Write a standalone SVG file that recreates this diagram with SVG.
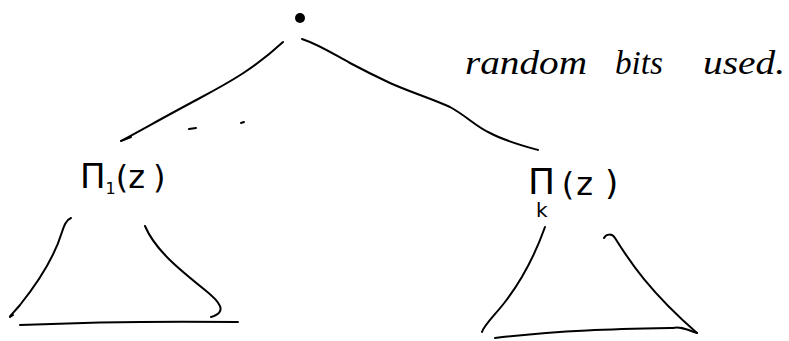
<svg xmlns="http://www.w3.org/2000/svg" width="789" height="341" viewBox="0 0 789 341">
<style>
.ink{fill:none;stroke:#000;stroke-width:2;stroke-linecap:round;stroke-linejoin:round}
.hand{font-family:"Liberation Serif",serif;font-style:italic;fill:#000}
.lbl{font-family:"DejaVu Sans",sans-serif;fill:#000}
</style>
<rect width="789" height="341" fill="#fff"/>
<g id="root">
<circle cx="300" cy="18" r="5" fill="#000"/>
</g>
<g id="note">
<text class="hand" x="465" y="74" font-size="34" textLength="122" lengthAdjust="spacingAndGlyphs">random</text>
<text class="hand" x="615" y="74" font-size="34" textLength="48" lengthAdjust="spacingAndGlyphs">bits</text>
<text class="hand" x="703" y="74" font-size="34" textLength="82" lengthAdjust="spacingAndGlyphs">used.</text>
</g>
<g id="connectors">
<path class="ink" d="M283,42 C255,68 230,82 200,98 C170,114 145,128 121,141 L131,137"/>
<path class="ink" d="M302,39 C320,45 335,55 350,63 C365,71 375,76 390,83 C410,92 430,98 450,107 C468,117 475,126 490,133 C505,141 520,145 538,150"/>
<path class="ink" d="M189,129 L196,128"/>
<path class="ink" d="M241,123 L244,122"/>
</g>
<g id="pi1">
<text class="lbl" x="80" y="188" font-size="34">Π<tspan font-size="16" dy="6">1</tspan><tspan font-size="32" dy="-6">(z</tspan><tspan font-size="32" dx="8">)</tspan></text>
<path class="ink" d="M71,218 C66,220 64,226 62,232 C55,255 40,280 20,305 C14,312 9,317 10,317 L13,315"/>
<path class="ink" d="M145,226 C155,250 180,270 205,290 C220,302 228,312 211,317"/>
<path class="ink" d="M20,325 C90,322 160,321 238,322"/>
</g>
<g id="pik">
<text class="lbl" x="528" y="194" font-size="36">Π<tspan font-size="20" dx="-19" dy="23">k</tspan><tspan font-size="32" dx="14" dy="-22">(</tspan><tspan font-size="32" dx="2">z</tspan><tspan font-size="34" dx="12">)</tspan></text>
<path class="ink" d="M545,227 C535,255 522,280 505,302 C495,315 484,325 482,332"/>
<path class="ink" d="M604,238 C606,234 612,233 615,238 C630,262 650,292 697,333"/>
<path class="ink" d="M495,338 C560,330 620,329 673,328 C680,326 688,330 697,333"/>
</g>
</svg>
